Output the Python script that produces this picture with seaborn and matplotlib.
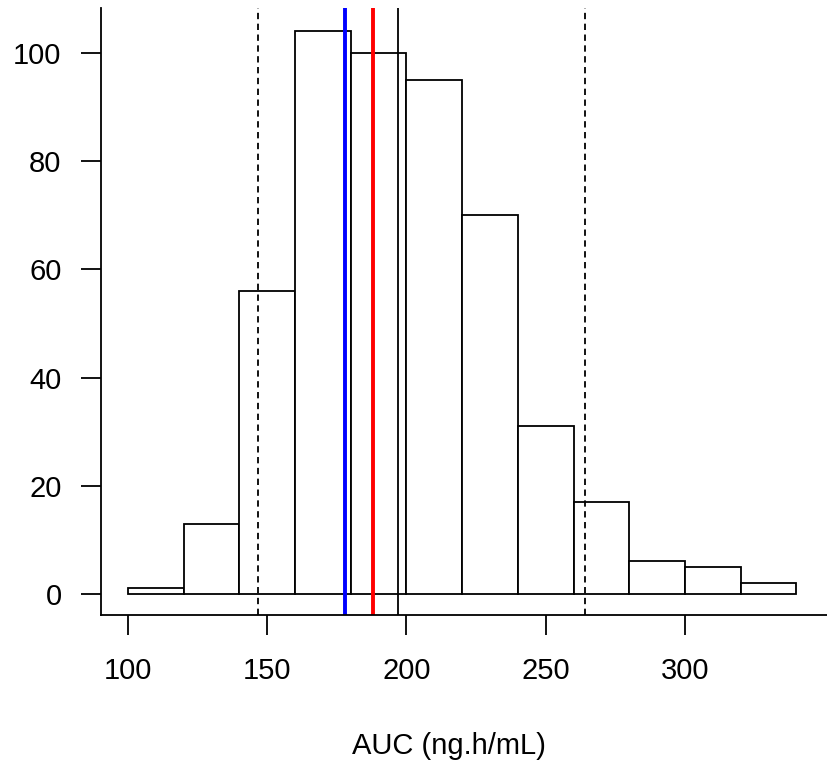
import numpy as np
import seaborn as sns
import matplotlib.pyplot as plt

# histogram counts
bin_edges = [100, 120, 140, 160, 180, 200, 220, 240, 260, 280, 300, 320, 340]
counts = [1, 13, 56, 104, 100, 95, 70, 31, 17, 6, 5, 2]
mids = [(a + b) / 2 for a, b in zip(bin_edges[:-1], bin_edges[1:])]

# reference lines
dashed_lines = [146.7, 264.1]
black_line = 196.9
blue_line = 177.9
red_line = 188.0

x_ticks = [100, 150, 200, 250, 300]
y_ticks = [0, 20, 40, 60, 80, 100]

sns.set_style("ticks")
plt.rcParams['font.family'] = ['Liberation Sans', 'DejaVu Sans']

W, H = 827, 771
fig = plt.figure(figsize=(W / 100, H / 100), dpi=100)
ax = fig.add_axes([101 / W, (H - 615) / H, (W - 101) / W, (615 - 8) / H])

lw = 1.3
sns.histplot(x=mids, weights=counts, bins=bin_edges, color='white',
             edgecolor='black', linewidth=lw, alpha=1, ax=ax)

for v in dashed_lines:
    ax.axvline(v, color='black', linewidth=lw, linestyle=(0, (3.5, 2.5)))
ax.axvline(black_line, color='black', linewidth=lw)
ax.axvline(blue_line, color='blue', linewidth=2.8)
ax.axvline(red_line, color='red', linewidth=2.8)

ax.set_xlim(90.3, 351)
ax.set_ylim(-3.9, 108.3)
ax.set_xticks(x_ticks)
ax.set_yticks(y_ticks)
ax.set_xlabel('')
ax.set_ylabel('')

for s in ['top', 'right']:
    ax.spines[s].set_visible(False)
for s in ['left', 'bottom']:
    ax.spines[s].set_linewidth(lw)
    ax.spines[s].set_color('black')

ax.tick_params(axis='both', labelsize=21, length=14.4, width=lw,
               colors='black', labelcolor='black')
ax.tick_params(axis='x', pad=16)
ax.tick_params(axis='y', pad=14)

fig.text(449 / W, 1 - 746 / H, 'AUC (ng.h/mL)', ha='center', va='center',
         fontsize=21, color='black')

fig.savefig('out.png', dpi=100)
